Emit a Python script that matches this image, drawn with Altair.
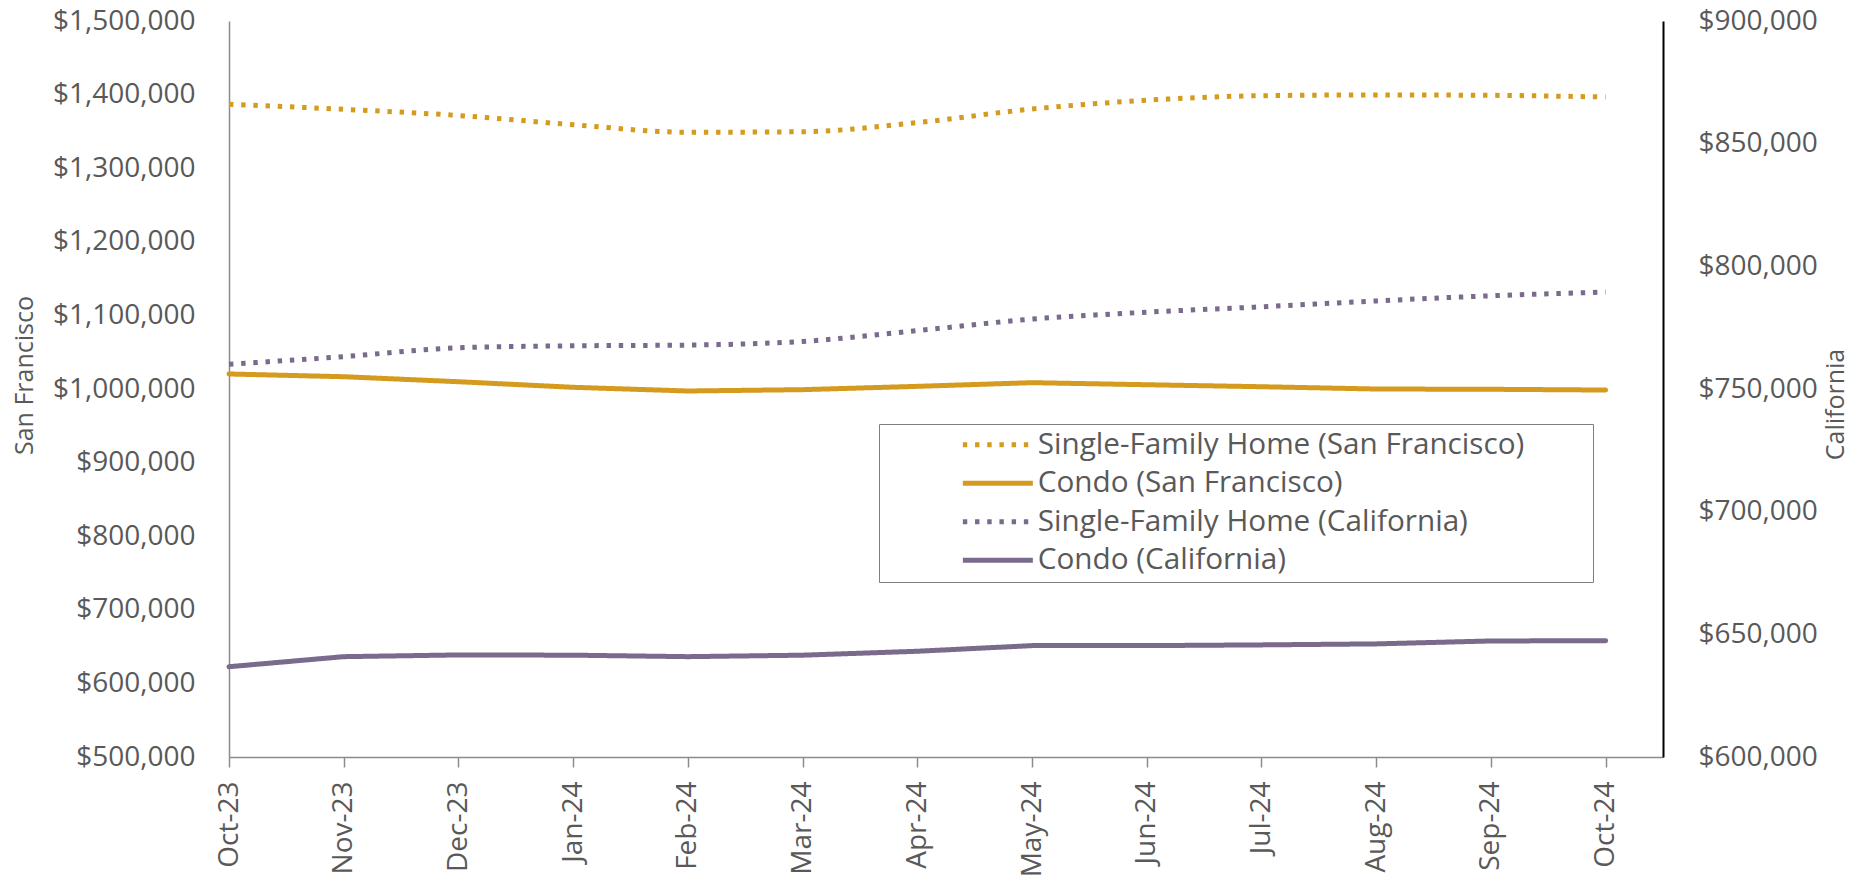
import json
import altair as alt
import pandas as pd

months = ['Oct-23', 'Nov-23', 'Dec-23', 'Jan-24', 'Feb-24', 'Mar-24', 'Apr-24',
          'May-24', 'Jun-24', 'Jul-24', 'Aug-24', 'Sep-24', 'Oct-24']

sf_sfh = [1386800, 1380000, 1371600, 1359100, 1348800, 1349600, 1362000,
          1380400, 1392300, 1398500, 1399500, 1399000, 1396700]
sf_condo = [1020400, 1016700, 1009900, 1002300, 997300, 999100, 1003600,
            1008600, 1005800, 1003100, 1000000, 999600, 998600]
ca_sfh = [760100, 763200, 766800, 767600, 767900, 769400, 773800,
          778500, 781300, 783500, 785900, 788000, 789500]
ca_condo = [636800, 640900, 641600, 641500, 640900, 641500, 643100,
            645400, 645400, 645700, 646100, 647300, 647400]

series_names = ['Single-Family Home (San Francisco)', 'Condo (San Francisco)',
                'Single-Family Home (California)', 'Condo (California)']
series_colors = ['#D49B1F', '#D49B1F', '#7A6A8C', '#7A6A8C']
DOT = [4.4, 7.8]
SOLID = [1, 0]
series_dash = [DOT, SOLID, DOT, SOLID]

rows = []
for name, vals in zip(series_names, [sf_sfh, sf_condo, ca_sfh, ca_condo]):
    for i, v in enumerate(vals):
        rows.append({'idx': i, 'month': months[i], 'series': name, 'value': v})
df = pd.DataFrame(rows)

FONT = 'Open Sans'
TXT = '#595959'
AX = '#8C8C8C'

x_enc = alt.X('idx:Q',
              scale=alt.Scale(domain=[0, 12.5], nice=False, zero=False),
              axis=alt.Axis(values=list(range(13)),
                            labelExpr=json.dumps(months) + '[datum.value]',
                            labelAngle=270, labelFontSize=28, labelPadding=14,
                            tickSize=10, tickColor=AX, tickWidth=1.5,
                            domainColor=AX, domainWidth=1.5, grid=False,
                            title=None, labelColor=TXT, labelFont=FONT))

legend = alt.Legend(title=None, orient='none', legendX=650, legendY=403,
                    symbolType='M-3.5,0H3.5', symbolSize=400, symbolStrokeWidth=5,
                    labelFontSize=29.7, labelFont=FONT, labelColor=TXT,
                    strokeColor='#7F7F7F', padding=6, rowPadding=7.5,
                    symbolOffset=98, labelOffset=25, labelLimit=1000,
                    labelExpr="datum.label + '" + '\u00a0' * 8 + "\u200b'")

color_enc = alt.Color('series:N', scale=alt.Scale(domain=series_names, range=series_colors),
                      legend=legend)
dash_enc = alt.StrokeDash('series:N', scale=alt.Scale(domain=series_names, range=series_dash),
                          legend=legend)

y_sf = alt.Y('value:Q',
             scale=alt.Scale(domain=[500000, 1500000], nice=False, zero=False),
             axis=alt.Axis(values=list(range(500000, 1500001, 100000)), format='$,.0f',
                           title='San Francisco', titleFontSize=25, titleFont=FONT,
                           titleColor=TXT, titleFontWeight='normal', titlePadding=15,
                           titleY=354,
                           labelFontSize=28, labelFont=FONT, labelColor=TXT,
                           labelPadding=34, ticks=False, tickSize=0, grid=False,
                           domainColor=AX, domainWidth=1.5))
y_ca = alt.Y('value:Q',
             scale=alt.Scale(domain=[600000, 900000], nice=False, zero=False),
             axis=alt.Axis(orient='right', values=list(range(600000, 900001, 50000)),
                           format='$,.0f', title='California', titleFontSize=25,
                           titleFont=FONT, titleColor=TXT, titleFontWeight='normal',
                           titleAngle=270, titleBaseline='top', titlePadding=6,
                           titleY=383,
                           labelFontSize=28, labelFont=FONT, labelColor=TXT,
                           labelPadding=35, ticks=False, tickSize=0, grid=False,
                           domainColor='#000000', domainWidth=2))


def line_layer(name, y_enc, interp, cap):
    return alt.Chart(df).transform_filter(alt.datum.series == name).mark_line(
        strokeWidth=5, strokeCap=cap, strokeJoin='round', interpolate=interp
    ).encode(x=x_enc, y=y_enc, color=color_enc, strokeDash=dash_enc,
             order=alt.Order('idx:Q'))


sf = alt.layer(line_layer(series_names[0], y_sf, 'monotone', 'butt'),
               line_layer(series_names[1], y_sf, 'linear', 'round'))
ca = alt.layer(line_layer(series_names[2], y_ca, 'monotone', 'butt'),
               line_layer(series_names[3], y_ca, 'linear', 'round'))

chart = alt.layer(sf, ca).resolve_scale(y='independent').properties(
    width=1434, height=736,
    autosize=alt.AutoSizeParams(type='none'),
    padding={'left': 221, 'top': 13, 'right': 190, 'bottom': 124},
).configure_view(stroke=None)

chart.save('out.html', embed_options={'renderer': 'svg', 'actions': False})
